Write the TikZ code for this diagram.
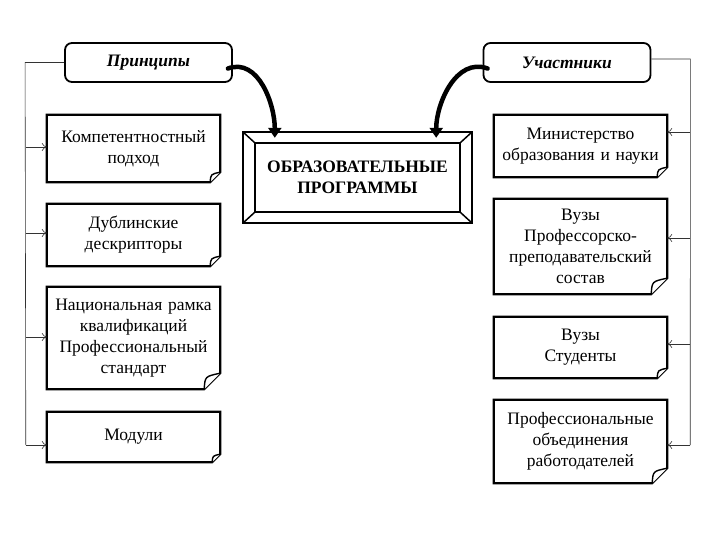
\documentclass[tikz,border=0pt]{standalone}
\usepackage{fontspec}
\setmainfont{Liberation Serif}
\usetikzlibrary{arrows.meta,calc}
\newcommand\foldbox[2]{%
  \draw[line width=2.2pt, line join=miter]
    (#1.north west) -- (#1.north east) -- ($(#1.south east)+(0,-#2)$)
    -- ($(#1.south east)+(-#2,0)$) -- (#1.south west) -- cycle;
  \draw[line width=1.4pt, fill=white, line join=round]
    ($(#1.south east)+(0,-#2)$) .. controls ($(#1.south east)+(-0.95*#2,-0.8*#2)$) .. ($(#1.south east)+(-#2,0)$);
}
\begin{document}
\begin{tikzpicture}[x=1pt,y=-1pt,
  txt/.style={font=\fontsize{17.5}{21}\selectfont, align=center, inner sep=0pt},
  boxnode/.style={txt, minimum width=173pt, text width=171pt},
  head/.style={draw, line width=1.8pt, rounded corners=7pt, minimum width=167pt,
    minimum height=39pt, font=\fontsize{17.5}{20}\selectfont\bfseries\itshape, inner sep=0pt},
  bus/.style={line width=0.6pt, draw=black!80},
  tip/.style={bus, -{To[length=5pt,width=8pt]}},
  big/.style={line width=4.5pt, line cap=round, -{Triangle[width=13pt,length=10pt]}}
]
\useasboundingbox (0,0) rectangle (708,532);

% headers
\node[head] (hl) at (148.5,62.5) {Принципы};
\node[head] (hr) at (567,62.5) {Участники};

% main box
\node[txt, font=\fontsize{17.5}{21}\selectfont\bfseries, minimum width=229pt, minimum height=91pt] (main) at (357.5,177.5) {ОБРАЗОВАТЕЛЬНЫЕ\\ПРОГРАММЫ};
\draw[line width=2pt] (main.north west) rectangle (main.south east);
\draw[line width=2pt] ($(main.north west)+(12,11)$) rectangle ($(main.south east)+(-12,-11)$);
\draw[line width=1.5pt] (main.north west) -- ($(main.north west)+(12,11)$)
  (main.north east) -- ($(main.north east)+(-12,11)$)
  (main.south west) -- ($(main.south west)+(12,-11)$)
  (main.south east) -- ($(main.south east)+(-12,-11)$);

% left boxes
\node[boxnode, minimum height=67pt] (L1) at (133.5,148.5) {Компетентностный\\подход};
\node[boxnode, minimum height=62pt] (L2) at (133.5,235) {Дублинские\\дескрипторы};
\node[boxnode, minimum height=102pt] (L3) at (133.5,338) {Национальная рамка\\квалификаций\\Профессиональный\\стандарт};
\node[boxnode, minimum height=50pt] (L4) at (133.5,437) {Модули};
\foldbox{L1}{10}
\foldbox{L2}{10}
\foldbox{L3}{16}
\foldbox{L4}{8}

% right boxes
\node[boxnode, minimum height=62pt] (R1) at (580.5,146) {Министерство\\образования и науки};
\node[boxnode, minimum height=95pt] (R2) at (580.5,246.5) {Вузы\\Профессорско-\\преподавательский\\состав};
\node[boxnode, minimum height=61pt] (R3) at (580.5,347.5) {Вузы\\Студенты};
\node[boxnode, minimum height=83pt] (R4) at (580.5,441.5) {Профессиональные\\объединения\\работодателей};
\foldbox{R1}{10}
\foldbox{R2}{16}
\foldbox{R3}{10}
\foldbox{R4}{15}

% left bus
\coordinate (lb) at ($(hl.west)+(-39,0)$);
\coordinate (lbe) at ($(L4.west)+(-21,8)$);
\draw[bus] (hl.west) -- (lb) -- (lbe);
\draw[tip] ($(L1.west)+(-21,-1.5)$) -- ($(L1.west)+(0,-1.5)$);
\draw[tip] ($(L2.west)+(-21,-2)$) -- ($(L2.west)+(0,-2)$);
\draw[tip] ($(L3.west)+(-21,-1)$) -- ($(L3.west)+(0,-1)$);
\draw[tip] (lbe) -- ($(L4.west)+(0,8)$);

% right bus
\coordinate (rb) at ($(hr.east)+(39,-3.5)$);
\coordinate (rbe) at ($(R4.east)+(23,3.5)$);
\draw[bus] ($(hr.east)+(0,-3.5)$) -- (rb) -- (rbe);
\draw[tip] ($(R1.east)+(23,-14)$) -- ($(R1.east)+(0,-14)$);
\draw[tip] ($(R2.east)+(23,-8.5)$) -- ($(R2.east)+(0,-8.5)$);
\draw[tip] ($(R3.east)+(23,-3.5)$) -- ($(R3.east)+(0,-3.5)$);
\draw[tip] (rbe) -- ($(R4.east)+(0,3.5)$);

% big curved arrows
\draw[big] ($(hl.east)+(-5,6)$) to[out=20,in=90] ($(main.north west)+(32,6)$);
\draw[big] ($(hr.west)+(5,6)$) to[out=160,in=90] ($(main.north east)+(-36,6)$);
\end{tikzpicture}
\end{document}
